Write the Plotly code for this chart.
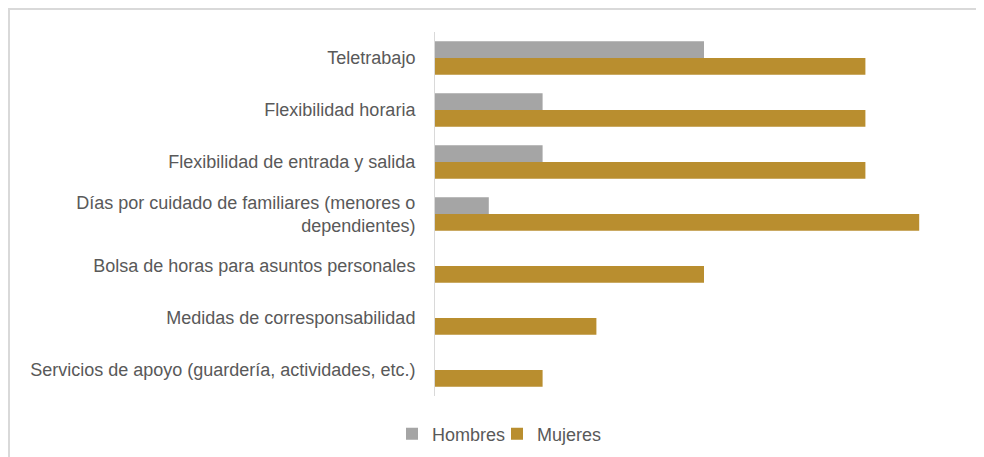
import plotly.graph_objects as go

categories = [
    "Teletrabajo",
    "Flexibilidad horaria",
    "Flexibilidad de entrada y salida",
    "Días por cuidado de familiares (menores o<br>dependientes)",
    "Bolsa de horas para asuntos personales",
    "Medidas de corresponsabilidad",
    "Servicios de apoyo (guardería, actividades, etc.)",
]
hombres = [5, 2, 2, 1, 0, 0, 0]
mujeres = [8, 8, 8, 9, 5, 3, 2]

W, H = 984, 457
L, R, T, B = 427, 19, 24, 69
pw, ph = W - L - R, H - T - B

fig = go.Figure()
fig.add_trace(go.Bar(y=categories, x=hombres, name="Hombres", orientation="h",
                     marker=dict(color="#A5A5A5", line=dict(width=0))))
fig.add_trace(go.Bar(y=categories, x=mujeres, name="Mujeres", orientation="h",
                     marker=dict(color="#B98E2F", line=dict(width=0))))

fig.update_layout(
    width=W, height=H,
    margin=dict(l=L, r=R, t=T, b=B, autoexpand=False),
    barmode="group", bargap=0.36, bargroupgap=0,
    plot_bgcolor="white", paper_bgcolor="white",
    font=dict(family="Arial", size=18, color="#595959"),
    xaxis=dict(range=[0, 10], showgrid=False, showticklabels=False, zeroline=False,
               showline=False, fixedrange=True),
    yaxis=dict(autorange="reversed", showgrid=False, showline=True, linecolor="#D9D9D9",
               linewidth=1, ticks="", ticklabelstandoff=15, zeroline=False,
               tickfont=dict(size=18)),
    showlegend=True,
    legend=dict(orientation="h", x=(489 - L) / pw, xanchor="center",
                y=(H - B - 426) / ph, yanchor="middle",
                font=dict(size=18, color="#595959"), itemwidth=30,
                entrywidth=60, entrywidthmode="pixels",
                traceorder="normal"),
    shapes=[dict(type="rect", xref="paper", yref="paper",
                 x0=(1 - L) / pw, x1=(W + 20 - L) / pw,
                 y0=(H - B - H - 20) / ph, y1=(H - B - 1) / ph,
                 line=dict(color="#D9D9D9", width=2), fillcolor="rgba(0,0,0,0)",
                 layer="below")],
)

fig.write_html("out.html")
